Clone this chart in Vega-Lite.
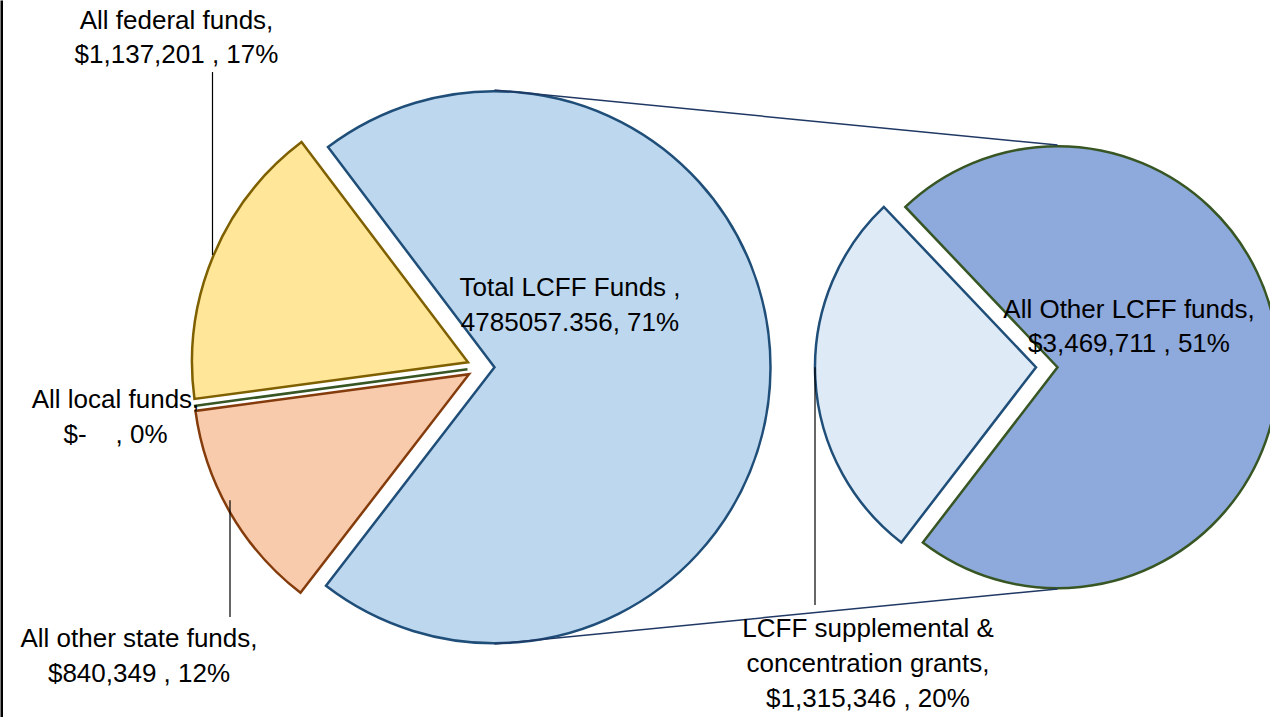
{
  "$schema": "https://vega.github.io/schema/vega-lite/v6.json",
  "autosize": {"type": "none"},
  "padding": {"left": 1.25, "top": 0, "right": 0, "bottom": 0},
  "width": 1268.75,
  "height": 717,
  "background": "white",
  "config": {"view": {"stroke": null}, "text": {"font": "Liberation Sans"}},
  "datasets": {
    "left": [
      {"pie": "Left", "name": "Total LCFF Funds", "value": 4785057.356, "seq": 1, "label": "Total LCFF Funds ,\n4785057.356, 71%"},
      {"pie": "Left", "name": "All other state funds", "value": 840349, "seq": 2, "label": "All other state funds,\n$840,349 , 12%"},
      {"pie": "Left", "name": "All local funds", "value": 0, "seq": 3, "label": "All local funds,\n$-\u00a0\u00a0\u00a0\u00a0, 0%"},
      {"pie": "Left", "name": "All federal funds", "value": 1137201, "seq": 4, "label": "All federal funds,\n$1,137,201 , 17%"}
    ],
    "right": [
      {"pie": "Right", "name": "All Other LCFF funds", "value": 3469711, "seq": 1, "label": "All Other LCFF funds,\n$3,469,711 , 51%"},
      {"pie": "Right", "name": "LCFF supplemental & concentration grants", "value": 1315346, "seq": 2, "label": "LCFF supplemental &\nconcentration grants,\n$1,315,346 , 20%"}
    ]
  },
  "resolve": {"scale": {"theta": "independent"}},
  "layer": [
    {
      "data": {"values": [{}]},
      "mark": {"type": "rule", "color": "black", "strokeWidth": 2.5},
      "encoding": {
        "x": {"datum": "Left", "type": "nominal", "scale": {"type": "point", "domain": ["Left", "Right"], "padding": 0.626776, "align": 0.6989}, "axis": null},
        "y": {"datum": 0, "type": "quantitative", "scale": {"type": "linear", "domain": [-1, 1.05], "nice": false, "zero": false}, "axis": {"domain": true, "domainColor": "black", "domainWidth": 2.5, "ticks": false, "labels": false, "grid": false, "title": null}},
        "y2": {"datum": 0},
        "opacity": {"value": 0}
      }
    },
    {
      "data": {"name": "left"},
      "mark": {"type": "arc", "radius": 276, "strokeWidth": 2.5, "strokeJoin": "miter"},
      "encoding": {
        "x": {"field": "pie", "type": "nominal", "axis": null},
        "y": {"datum": 0, "type": "quantitative", "axis": {"domain": true, "domainColor": "black", "domainWidth": 2.5, "ticks": false, "labels": false, "grid": false, "title": null}},
        "theta": {"field": "value", "type": "quantitative", "stack": true, "scale": {"range": [-0.6475, 5.6357]}},
        "order": {"field": "seq", "type": "quantitative"},
        "color": {"field": "name", "type": "nominal", "legend": null, "scale": {"domain": ["Total LCFF Funds", "All other state funds", "All local funds", "All federal funds", "All Other LCFF funds", "LCFF supplemental & concentration grants"], "range": ["#BDD7EE", "#F8CBAD", "#A9D18E", "#FFE699", "#8EA9DB", "#DEEBF7"]}},
        "stroke": {"field": "name", "type": "nominal", "legend": null, "scale": {"domain": ["Total LCFF Funds", "All other state funds", "All local funds", "All federal funds", "All Other LCFF funds", "LCFF supplemental & concentration grants"], "range": ["#1F4E79", "#843C0C", "#375623", "#7F6000", "#375623", "#1F4E79"]}},
        "opacity": {"condition": {"test": "datum.name === 'Total LCFF Funds'", "value": 1}, "value": 0}
      }
    },
    {
      "data": {"name": "left"},
      "mark": {"type": "arc", "radius": 276, "strokeWidth": 2.5, "strokeJoin": "miter", "xOffset": -25.5, "yOffset": 7},
      "encoding": {
        "x": {"field": "pie", "type": "nominal", "axis": null},
        "y": {"datum": 0, "type": "quantitative", "axis": {"domain": true, "domainColor": "black", "domainWidth": 2.5, "ticks": false, "labels": false, "grid": false, "title": null}},
        "theta": {"field": "value", "type": "quantitative", "stack": true, "scale": {"range": [-0.6475, 5.6357]}},
        "order": {"field": "seq", "type": "quantitative"},
        "color": {"field": "name", "type": "nominal", "legend": null},
        "stroke": {"field": "name", "type": "nominal", "legend": null},
        "opacity": {"condition": {"test": "datum.name === 'All other state funds'", "value": 1}, "value": 0}
      }
    },
    {
      "data": {"name": "left"},
      "mark": {"type": "arc", "radius": 276, "strokeWidth": 2.5, "strokeJoin": "miter", "xOffset": -27, "yOffset": 2},
      "encoding": {
        "x": {"field": "pie", "type": "nominal", "axis": null},
        "y": {"datum": 0, "type": "quantitative", "axis": {"domain": true, "domainColor": "black", "domainWidth": 2.5, "ticks": false, "labels": false, "grid": false, "title": null}},
        "theta": {"field": "value", "type": "quantitative", "stack": true, "scale": {"range": [-0.6475, 5.6357]}},
        "order": {"field": "seq", "type": "quantitative"},
        "color": {"field": "name", "type": "nominal", "legend": null},
        "stroke": {"field": "name", "type": "nominal", "legend": null},
        "opacity": {"condition": {"test": "datum.name === 'All local funds'", "value": 1}, "value": 0}
      }
    },
    {
      "data": {"name": "left"},
      "mark": {"type": "arc", "radius": 276, "strokeWidth": 2.5, "strokeJoin": "miter", "xOffset": -26.5, "yOffset": -5},
      "encoding": {
        "x": {"field": "pie", "type": "nominal", "axis": null},
        "y": {"datum": 0, "type": "quantitative", "axis": {"domain": true, "domainColor": "black", "domainWidth": 2.5, "ticks": false, "labels": false, "grid": false, "title": null}},
        "theta": {"field": "value", "type": "quantitative", "stack": true, "scale": {"range": [-0.6475, 5.6357]}},
        "order": {"field": "seq", "type": "quantitative"},
        "color": {"field": "name", "type": "nominal", "legend": null},
        "stroke": {"field": "name", "type": "nominal", "legend": null},
        "opacity": {"condition": {"test": "datum.name === 'All federal funds'", "value": 1}, "value": 0}
      }
    },
    {
      "data": {"name": "right"},
      "mark": {"type": "arc", "radius": 221, "strokeWidth": 2.5, "strokeJoin": "miter"},
      "encoding": {
        "x": {"field": "pie", "type": "nominal", "axis": null},
        "y": {"datum": 0, "type": "quantitative", "axis": {"domain": true, "domainColor": "black", "domainWidth": 2.5, "ticks": false, "labels": false, "grid": false, "title": null}},
        "theta": {"field": "value", "type": "quantitative", "stack": true, "scale": {"range": [-0.7592, 5.5240]}},
        "order": {"field": "seq", "type": "quantitative"},
        "color": {"field": "name", "type": "nominal", "legend": null},
        "stroke": {"field": "name", "type": "nominal", "legend": null},
        "opacity": {"condition": {"test": "datum.name === 'All Other LCFF funds'", "value": 1}, "value": 0}
      }
    },
    {
      "data": {"name": "right"},
      "mark": {"type": "arc", "radius": 221, "strokeWidth": 2.5, "strokeJoin": "miter", "xOffset": -21.5},
      "encoding": {
        "x": {"field": "pie", "type": "nominal", "axis": null},
        "y": {"datum": 0, "type": "quantitative", "axis": {"domain": true, "domainColor": "black", "domainWidth": 2.5, "ticks": false, "labels": false, "grid": false, "title": null}},
        "theta": {"field": "value", "type": "quantitative", "stack": true, "scale": {"range": [-0.7592, 5.5240]}},
        "order": {"field": "seq", "type": "quantitative"},
        "color": {"field": "name", "type": "nominal", "legend": null},
        "stroke": {"field": "name", "type": "nominal", "legend": null},
        "opacity": {"condition": {"test": "datum.name === 'LCFF supplemental & concentration grants'", "value": 1}, "value": 0}
      }
    },
    {
      "data": {"values": [{}]},
      "mark": {"type": "rule", "color": "#1F3864", "strokeWidth": 1.5},
      "encoding": {
        "x": {"datum": "Left", "type": "nominal", "axis": null},
        "x2": {"datum": "Right"},
        "y": {"datum": 0.7927, "type": "quantitative", "axis": {"domain": true, "domainColor": "black", "domainWidth": 2.5, "ticks": false, "labels": false, "grid": false, "title": null}},
        "y2": {"datum": 0.6354}
      }
    },
    {
      "data": {"values": [{}]},
      "mark": {"type": "rule", "color": "#1F3864", "strokeWidth": 1.5},
      "encoding": {
        "x": {"datum": "Left", "type": "nominal", "axis": null},
        "x2": {"datum": "Right"},
        "y": {"datum": -0.7913, "type": "quantitative", "axis": {"domain": true, "domainColor": "black", "domainWidth": 2.5, "ticks": false, "labels": false, "grid": false, "title": null}},
        "y2": {"datum": -0.634}
      }
    },
    {
      "data": {"values": [{}]},
      "mark": {"type": "rule", "color": "black", "strokeWidth": 1.2, "xOffset": -282},
      "encoding": {
        "x": {"datum": "Left", "type": "nominal", "axis": null},
        "y": {"datum": 0.844, "type": "quantitative", "axis": {"domain": true, "domainColor": "black", "domainWidth": 2.5, "ticks": false, "labels": false, "grid": false, "title": null}},
        "y2": {"datum": 0.321}
      }
    },
    {
      "data": {"values": [{}]},
      "mark": {"type": "rule", "color": "black", "strokeWidth": 1.2, "xOffset": -264.5},
      "encoding": {
        "x": {"datum": "Left", "type": "nominal", "axis": null},
        "y": {"datum": -0.7141, "type": "quantitative", "axis": {"domain": true, "domainColor": "black", "domainWidth": 2.5, "ticks": false, "labels": false, "grid": false, "title": null}},
        "y2": {"datum": -0.38}
      }
    },
    {
      "data": {"values": [{}]},
      "mark": {"type": "rule", "color": "black", "strokeWidth": 1.2, "xOffset": -242.5},
      "encoding": {
        "x": {"datum": "Right", "type": "nominal", "axis": null},
        "y": {"datum": -0.6797, "type": "quantitative", "axis": {"domain": true, "domainColor": "black", "domainWidth": 2.5, "ticks": false, "labels": false, "grid": false, "title": null}},
        "y2": {"datum": 0}
      }
    },
    {
      "data": {"name": "left"},
      "transform": [{"filter": "datum.name === 'All federal funds'"}],
      "mark": {"type": "text", "align": "center", "baseline": "alphabetic", "lineBreak": "\n", "lineHeight": 34, "fontSize": 26, "color": "black", "xOffset": -318},
      "encoding": {
        "x": {"field": "pie", "type": "nominal", "axis": null},
        "y": {"datum": 0.9671, "type": "quantitative", "axis": {"domain": true, "domainColor": "black", "domainWidth": 2.5, "ticks": false, "labels": false, "grid": false, "title": null}},
        "text": {"field": "label"}
      }
    },
    {
      "data": {"name": "left"},
      "transform": [{"filter": "datum.name === 'Total LCFF Funds'"}],
      "mark": {"type": "text", "align": "center", "baseline": "alphabetic", "lineBreak": "\n", "lineHeight": 35, "fontSize": 26, "color": "black", "xOffset": 75.5},
      "encoding": {
        "x": {"field": "pie", "type": "nominal", "axis": null},
        "y": {"datum": 0.2037, "type": "quantitative", "axis": {"domain": true, "domainColor": "black", "domainWidth": 2.5, "ticks": false, "labels": false, "grid": false, "title": null}},
        "text": {"field": "label"}
      }
    },
    {
      "data": {"name": "left"},
      "transform": [{"filter": "datum.name === 'All local funds'"}],
      "mark": {"type": "text", "align": "center", "baseline": "alphabetic", "lineBreak": "\n", "lineHeight": 35, "fontSize": 26, "color": "black", "xOffset": -379},
      "encoding": {
        "x": {"field": "pie", "type": "nominal", "axis": null},
        "y": {"datum": -0.1165, "type": "quantitative", "axis": {"domain": true, "domainColor": "black", "domainWidth": 2.5, "ticks": false, "labels": false, "grid": false, "title": null}},
        "text": {"field": "label"}
      }
    },
    {
      "data": {"name": "left"},
      "transform": [{"filter": "datum.name === 'All other state funds'"}],
      "mark": {"type": "text", "align": "center", "baseline": "alphabetic", "lineBreak": "\n", "lineHeight": 35, "fontSize": 26, "color": "black", "xOffset": -355.5},
      "encoding": {
        "x": {"field": "pie", "type": "nominal", "axis": null},
        "y": {"datum": -0.7999, "type": "quantitative", "axis": {"domain": true, "domainColor": "black", "domainWidth": 2.5, "ticks": false, "labels": false, "grid": false, "title": null}},
        "text": {"field": "label"}
      }
    },
    {
      "data": {"name": "right"},
      "transform": [{"filter": "datum.name === 'LCFF supplemental & concentration grants'"}],
      "mark": {"type": "text", "align": "center", "baseline": "alphabetic", "lineBreak": "\n", "lineHeight": 35, "fontSize": 26, "color": "black", "xOffset": -189.5},
      "encoding": {
        "x": {"field": "pie", "type": "nominal", "axis": null},
        "y": {"datum": -0.7713, "type": "quantitative", "axis": {"domain": true, "domainColor": "black", "domainWidth": 2.5, "ticks": false, "labels": false, "grid": false, "title": null}},
        "text": {"field": "label"}
      }
    },
    {
      "data": {"name": "right"},
      "transform": [{"filter": "datum.name === 'All Other LCFF funds'"}],
      "mark": {"type": "text", "align": "center", "baseline": "alphabetic", "lineBreak": "\n", "lineHeight": 34, "fontSize": 26, "color": "black", "xOffset": 71.5},
      "encoding": {
        "x": {"field": "pie", "type": "nominal", "axis": null},
        "y": {"datum": 0.1408, "type": "quantitative", "axis": {"domain": true, "domainColor": "black", "domainWidth": 2.5, "ticks": false, "labels": false, "grid": false, "title": null}},
        "text": {"field": "label"}
      }
    }
  ]
}
